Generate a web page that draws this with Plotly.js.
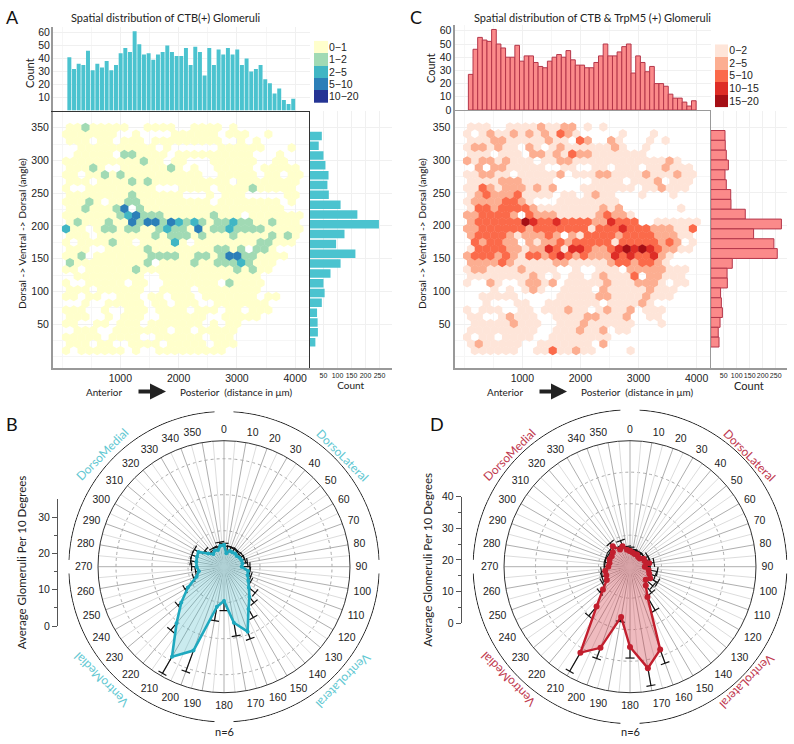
<!DOCTYPE html>
<html><head><meta charset="utf-8">
<script src="https://cdn.plot.ly/plotly-3.0.1.min.js"></script>
<style>html,body{margin:0;padding:0;background:#fff}#p{width:794px;height:744px}</style>
</head><body><div id="p"></div>
<script>
const levelsA = ["0−1","1−2","2−5","5−10","10−20"];
const levelsC = ["0−2","2−5","5−10","10−15","15−20"];
const coloursA = ["#FFFFCC","#A1DAB4","#41B6C4","#2C7FB8","#253494"];
const coloursC = ["#FEE5D9","#FCAE91","#FB6A4A","#DE2D26","#A50F15"];
// hexbin levels, one string per row (top row first), one digit per column: 0 = empty bin
const hexRowsA = [
"1121111100111100111101",
"111111100100001111110111001",
"1110110111011111111100101",
"001111111111010000001111110001",
"0111110221111011111111110001",
"11111111112110110001111110011",
"111210011111121010011111011111",
"1101121211111111110011111011011",
"111011112121111111111011111111",
"100111111111000111101111211111",
"111111112111111000101110000011",
"111210112211111111101111111101",
"1121112402111111111111111111",
"1111111234222111111211101111111",
"121112114244243232122322112111",
"3110122122112322141223222211111",
"111011111112122212111211112121",
"101111211011113101111111122111",
"111001111121111111122120221",
"11201111111222211221244221111",
"211111111120111121122232111",
"110111111211111111111121211",
"0111111111001111111111111",
"10011111011001111111021111",
"1110111111001111011111111",
"1101100111011011101111111011",
"00100111110110111001111111",
"111001001110111101110110111",
"1110010111001111110011111",
"11001101110111111101011",
"0111001111111011011111",
"1111101111001111110111",
"1110110011110111110111",
"101111110100111111111"
];
const hexRowsC = [
"111001111211220101",
"1012112121213210000010001",
"11122111112110320021000101",
"122121102101211111121001",
"11101110221213221111111",
"2122121110112211111111111121",
"02022111110011001101110112111",
"112211011111201112211112111211",
"11112221111000001111011120111",
"11321222121200011111110112111",
"123222311110110121100010001",
"12222332100011111111",
"1332333321111111121200000001",
"22333320322211111232210000",
"233333354334333322433300111111",
"223333332333333313334333222113",
"23333212223202133332333322211",
"032332202122323333313333323201",
"13333221224314432234545432211",
"233323213323432322243433421",
"22223211111221111123323321",
"12211112111100100111022222111",
"1111111121010110121113022111",
"10021001221201111121112221011",
"000101012100111102111112111",
"001111100000111112211112111",
"001000110011111110111121",
"10111001101112110121120111",
"1100121110011112211120011",
"01111121110011121111110001",
"111111111001112112011",
"1011011110011111111",
"121111100111111102",
"0111111001131121100001"
];
const countTopA = [41,32,36,35,46,31,36,33,38,31,35,44,48,45,61,51,43,44,39,43,45,50,45,42,42,48,35,49,45,27,48,35,47,43,48,43,47,35,40,30,32,35,24,21,13,17,8,5,9];
const countTopC = [27,46,55,53,52,61,50,47,40,40,49,37,41,41,36,33,32,37,40,42,40,45,38,34,34,32,32,36,41,50,41,41,44,48,50,28,41,36,29,33,20,20,18,12,9,9,6,3,7];
const countRightA = [44,33,50,57,68,64,69,111,171,248,125,95,164,111,75,50,54,44,27,29,30,21];
const countRightC = [55,56,60,68,55,60,77,78,133,272,165,243,256,83,63,64,38,41,45,36,29,32];
const polarAngles = [0,10,20,30,40,50,60,70,80,90,100,110,120,130,140,150,160,170,180,190,200,210,220,230,240,250,260,270,280,290,300,310,320,330,340,350];
const meanA = [6,3.8,4.7,4.6,4.8,4.6,5,5.2,5.2,4.9,6.8,7,7.8,9,11,13.6,19.2,15.8,9.5,11.3,24.8,28.9,20.5,15.5,11.6,8.1,7.1,7.6,7.8,8,8.2,5.7,4.6,5.2,4.9,5.9];
const upperA = [6.5,5.7,5.8,5.6,5.8,5.4,6,6.1,6.6,7.2,7.3,7.9,8.5,11.3,13,16.3,21.3,19.5,12.2,15.2,31,34.2,23,16.7,12.5,9,8,9,9.4,9.5,9.5,6.9,5.5,6,5.8,6.9];
const meanD = [5,4.6,4.3,4.5,4,4.1,5,5,6.2,4.7,6,6.5,7.4,6.5,7.8,11.1,28,32.7,25.5,16.2,27.4,31.5,16.5,11.2,8.5,8,8,6.9,6.6,6.9,6.7,7.1,8.5,6.3,6.9,5.5];
const upperD = [6.2,5.6,5.3,5.5,5.4,5.5,6.5,6.5,7.7,6.4,8.8,8.5,10.1,9.5,10.7,16,32.6,38.3,29,17.7,31,38.3,20.4,12.5,10.2,9.5,9.2,8.2,8,8.2,7.8,8.3,9.8,7.3,8.8,6.5];
const regionLabels = ["DorsoMedial","DorsoLateral","VentroMedial","VentroLateral"];

const W=794,H=744;
const fx=p=>p/W, fy=p=>1-p/H;
const SANS='"Liberation Sans",Arial,sans-serif', HUM='Lato,"Open Sans",sans-serif';
const traces=[], annotations=[], layout={width:W,height:H,margin:{l:0,r:0,t:0,b:0},paper_bgcolor:'#fff',plot_bgcolor:'rgba(0,0,0,0)',showlegend:false,font:{family:SANS,size:10,color:'#222'}};
const G='#f0f0f0', G2='#f6f6f6';

function hexTraces(rows,colours,names,x0,dx,xa,ya){
  for(let lv=1;lv<=5;lv++){
    const xs=[],ys=[];
    rows.forEach((s,n)=>{[...s].forEach((c,k)=>{
      if(+c===lv){xs.push(x0+dx*k+(n%2===0?dx/2:0));ys.push(350.4-10.33*n);}
    });});
    traces.push({type:'scatter',mode:'markers',x:xs,y:ys,xaxis:xa,yaxis:ya,name:names[lv-1],hoverinfo:'x+y+name',
      marker:{symbol:'hexagon',size:9.4,color:colours[lv-1],line:{width:0}}});
  }
}
function note(x,y,text,size,color,angle){
  annotations.push({xref:'paper',yref:'paper',x:fx(x),y:fy(y),text:text,textangle:angle||0,showarrow:false,font:{family:HUM,size:size,color:color||'#222'},xanchor:'center',yanchor:'middle'});
}
function cartPanel(o){
  const xr=[(o.L-o.xZero)/o.xS,(o.R-o.xZero)/o.xS];
  const yr=[-17,375.5];
  const id=(n)=>n+o.base;
  const mainX=o.base===0?'x':'x'+id(1), mainY=o.base===0?'y':'y'+id(1);
  const mx=o.base===0?'xaxis':'xaxis'+id(1), my=o.base===0?'yaxis':'yaxis'+id(1);
  const t=id(2), r=id(3), k=id(4);
  const xtv=[1000,2000,3000,4000], xminor=[0,500,1000,1500,2000,2500,3000,3500,4000];
  const ytv=[50,100,150,200,250,300,350], yminor=[0,25,50,75,100,125,150,175,200,225,250,275,300,325,350,375];
  const gx={tickmode:'array',tickvals:xtv,ticks:'',showgrid:true,gridcolor:G,gridwidth:1,minor:{tickvals:xminor,showgrid:true,gridcolor:G2,ticks:''},zeroline:false};
  layout[mx]=Object.assign({},gx,{domain:[fx(o.L),fx(o.R)],range:xr,anchor:mainY,showline:true,linecolor:'#999',linewidth:2,ticks:'',ticklabelstandoff:-1,tickfont:{size:10.5,color:'#222'}});
  layout[my]={domain:[fy(o.B),fy(o.T)],range:yr,anchor:mainX,tickmode:'array',tickvals:ytv,showgrid:true,gridcolor:G,minor:{tickvals:yminor,showgrid:true,gridcolor:G2,ticks:''},zeroline:false,showline:true,linecolor:'#999',linewidth:2,ticks:'',ticklabelstandoff:0,tickfont:{size:10.5,color:'#222'}};
  hexTraces(o.hex,o.colours,o.names,o.hexX0,o.hexDX,mainX,mainY);
  // top histogram
  layout['xaxis'+t]=Object.assign({},gx,{domain:[fx(o.L),fx(o.R)],range:xr,anchor:'y'+t,showticklabels:false,showline:true,linecolor:o.frame,linewidth:1});
  layout['yaxis'+t]={domain:[fy(o.T-0.5),fy(o.histTop)],range:[0,(o.T-0.5-o.histTop)/o.topS],anchor:'x'+t,tickmode:'array',tickvals:o.topTicks,showgrid:true,gridcolor:G,zeroline:false,showline:true,linecolor:'#999',linewidth:2,ticks:'',ticklabelstandoff:-1,tickfont:{size:10.5,color:'#222'}};
  traces.push({type:'bar',x:o.top.map((_,i)=>o.binStart+80*i+40),y:o.top,width:o.topWidth,xaxis:'x'+t,yaxis:'y'+t,name:'Count',
    marker:{color:o.barFill,line:{color:o.barLine,width:o.barLW}}});
  note(o.countX,o.countY,'Count',11,'#222',-90);
  // right histogram
  layout['xaxis'+r]={domain:[fx(o.R),fx(o.RR)],range:[0,(o.RR-o.R)/o.rightS],anchor:'y'+r,tickmode:'array',tickvals:[50,100,150,200,250],tickangle:0,showgrid:true,gridcolor:G,zeroline:false,showline:true,linecolor:'#999',linewidth:2,ticks:'',ticklabelstandoff:0,tickfont:{size:7,color:'#222'},
    title:{text:'Count',font:{family:HUM,size:o.countSize,color:'#222'},standoff:o.countStandoff}};
  layout['yaxis'+r]={domain:[fy(o.B),fy(o.T)],range:yr,anchor:'x'+r,showticklabels:false,tickmode:'array',tickvals:ytv,showgrid:true,gridcolor:G,zeroline:false,showline:true,linecolor:o.frame,linewidth:1,ticks:''};
  traces.push({type:'bar',orientation:'h',y:o.right.map((_,i)=>345-15*i-7.5),x:o.right,width:o.rightWidth,xaxis:'x'+r,yaxis:'y'+r,name:'Count',
    marker:{color:o.barFill,line:{color:o.barLine,width:o.barLW}}});
  // colour key
  const n=o.names.length;
  const cs=[];o.colours.forEach((c,i)=>{cs.push([i/n,c]);cs.push([(i+1)/n,c]);});
  traces.push({type:'heatmap',x:['key'],y:o.names,z:o.names.map((_,i)=>[i]),zmin:-0.5,zmax:n-0.5,colorscale:cs,showscale:false,xaxis:'x'+k,yaxis:'y'+k,hoverinfo:'y'});
  layout['xaxis'+k]={domain:[fx(o.kL),fx(o.kR)],anchor:'y'+k,visible:false,type:'category',fixedrange:true};
  layout['yaxis'+k]={domain:[fy(o.kB),fy(o.kT)],anchor:'x'+k,type:'category',side:'right',autorange:'reversed',tickmode:'array',tickvals:o.names,ticktext:o.names,showgrid:false,zeroline:false,showline:false,ticks:'',ticklabelstandoff:0,tickfont:{size:10.5,color:'#222'}};
  // title & caption
  note(o.titleX,o.titleY,o.title,11);
  note(o.yTitleX,234,'Dorsal -> Ventral -> Dorsal (angle)',10.2,'#222',-90);
  note(o.antX,391.5,'Anterior',9.9);
  note(o.antX+131.5,391.5,'Posterior  (distance in μm)',9.9);
  annotations.push({xref:'paper',yref:'paper',axref:'pixel',ayref:'pixel',x:fx(o.antX+62),y:fy(391.5),ax:-29,ay:0,text:'',showarrow:true,arrowhead:2,arrowsize:0.8,arrowwidth:4,arrowcolor:'#222'});
}
function polarPanel(o){
  const t=o.ax;
  traces.push({type:'scatter',mode:'markers',x:[0],y:o.ticks,xaxis:'x'+t,yaxis:'y'+t,marker:{opacity:0},hoverinfo:'skip'});
  layout['xaxis'+t]={domain:[fx(o.axisX),fx(o.axisX+2)],anchor:'free',position:0,visible:false};
  layout['yaxis'+t]={domain:[fy(o.axisB),fy(o.axisT)],range:[0,o.rmax],anchor:'free',position:fx(o.axisX),side:'left',tickmode:'array',tickvals:o.ticks,showgrid:false,zeroline:false,showline:true,linecolor:'#555',linewidth:1,ticks:'outside',ticklen:5,tickcolor:'#555',tickfont:{size:10.5,color:'#222'},
    minor:{tickvals:o.minor,ticks:'outside',ticklen:3,tickcolor:'#555'},
    title:{text:'Average Glomeruli Per 10 Degrees',font:{family:HUM,size:o.titleSize,color:'#222'},standoff:o.standoff}};
  const sp=o.id;
  layout[sp]={domain:{x:[fx(o.cx-o.R),fx(o.cx+o.R)],y:[fy(o.cy+o.R),fy(o.cy-o.R)]},bgcolor:'rgba(0,0,0,0)',
    radialaxis:{range:[0,o.rmax],tickmode:'array',tickvals:o.ticks.filter(v=>v>0&&v<o.rmax),showticklabels:false,ticks:'',showline:false,showgrid:true,gridcolor:'#aaa',griddash:'dot',gridwidth:1},
    angularaxis:{direction:'clockwise',rotation:90,tickmode:'array',tickvals:polarAngles,ticktext:polarAngles.map(String),ticks:'outside',ticklen:3,tickcolor:'rgba(0,0,0,0)',tickfont:{size:10.5,color:'#222'},showline:true,linecolor:'#333',linewidth:1,showgrid:true,gridcolor:'#999',gridwidth:0.8}};
  const lightT=[],lightR=[];
  polarAngles.forEach(a=>{lightT.push(a+5,a+5,null);lightR.push(0,o.rmax,null);});
  traces.push({type:'scatterpolar',subplot:sp,mode:'lines',theta:lightT,r:lightR,line:{color:'#dcdcdc',width:1},hoverinfo:'skip'});
  // outer ring, on its own wider polar subplot
  const ringSp=o.ringId;
  layout[ringSp]={domain:{x:[fx(o.cx-o.ringPx),fx(o.cx+o.ringPx)],y:[fy(o.cy+o.ringPx),fy(o.cy-o.ringPx)]},bgcolor:'rgba(0,0,0,0)',
    radialaxis:{visible:false,range:[0,1.005]},angularaxis:{visible:false,direction:'clockwise',rotation:90}};
  [[o.gt,90-o.gr],[90+o.gr,180-o.gt],[180+o.gt,270-o.gr],[270+o.gr,360-o.gt]].forEach(q=>{
    const th=[];for(let a=q[0];a<q[1];a+=2)th.push(a);th.push(q[1]);
    traces.push({type:'scatterpolar',subplot:ringSp,mode:'lines',theta:th,r:th.map(()=>1),line:{color:'#222',width:1},hoverinfo:'skip'});
  });
  const eT=[],eR=[];
  polarAngles.forEach((a,i)=>{eT.push(a,a,null);eR.push(o.mean[i],o.upper[i],null);});
  traces.push({type:'scatterpolar',subplot:sp,mode:'lines',theta:eT,r:eR,line:{color:'#111',width:1.2},hoverinfo:'skip'});
  traces.push({type:'scatterpolar',subplot:sp,mode:'markers',theta:polarAngles,r:o.upper,hoverinfo:'skip',marker:{symbol:'line-ew',size:6.5,angle:polarAngles,line:{color:'#111',width:1.2}}});
  traces.push({type:'scatterpolar',subplot:sp,mode:'lines+markers',theta:polarAngles.concat([polarAngles[0]]),r:o.mean.concat([o.mean[0]]),fill:'toself',fillcolor:o.fill,line:{color:o.line,width:o.lw},marker:{color:o.line,size:o.ms},name:'Mean'});
  const angs=[-45,45,-135,135];
  regionLabels.forEach((t2,i)=>note(o.labels[i][0],o.labels[i][1],t2,12,o.labelC,angs[i]));
  note(o.cx,731,'n=6',11);
}
cartPanel({base:0,L:53,R:309.5,RR:392,T:111,B:368,xZero:62,xS:0.0583,hex:hexRowsA,colours:coloursA,names:levelsA,hexX0:68.6,hexDX:133.5,
  top:countTopA,right:countRightA,binStart:86,topWidth:68,rightWidth:13,topS:1.3,histTop:27,topTicks:[10,20,30,40,50,60],rightS:0.28,countSize:10,countStandoff:1,countX:29,countY:73,
  barFill:'#4BC3CF',barLine:'#4BC3CF',barLW:0,frame:'#333',kL:314,kR:328,kT:40.7,kB:103,title:'Spatial distribution of CTB(+) Glomeruli',titleX:165,titleY:18,yTitleX:22,antX:104});
cartPanel({base:5,L:454.5,R:710.7,RR:787,T:110.5,B:368,xZero:464.2,xS:0.0581,hex:hexRowsC,colours:coloursC,names:levelsC,hexX0:50,hexDX:134,
  top:countTopC,right:countRightC,binStart:72,topWidth:80,rightWidth:15,topS:1.32,histTop:25,topTicks:[0,10,20,30,40,50,60],rightS:0.26,countSize:11,countStandoff:0,countX:430,countY:68,
  barFill:'#FB8A8A',barLine:'#B4364A',barLW:1,frame:'#999',kL:715,kR:728.3,kT:44.3,kB:107.3,title:'Spatial distribution of CTB &amp; TrpM5 (+) Glomeruli',titleX:592,titleY:18,yTitleX:422,antX:505});
polarPanel({ax:20,id:'polar',ringId:'polar3',ringPx:156,cx:224,cy:566.7,R:126,rmax:35,ticks:[0,10,20,30],minor:[5,15,25],gt:3.5,gr:2.5,mean:meanA,upper:upperA,fill:'rgba(65,182,196,0.28)',line:'#1FA9BF',lw:2.6,ms:4,labelC:'#62C8D2',
  axisX:57,axisB:626,axisT:499,titleSize:11.5,standoff:8,labels:[[101.7,454],[343,455],[100.7,680],[344,681]]});
polarPanel({ax:21,id:'polar2',ringId:'polar4',ringPx:157.7,cx:630,cy:566.7,R:126,rmax:40,ticks:[0,10,20,30,40],minor:[5,15,25,35],gt:3.5,gr:2.5,mean:meanD,upper:upperD,fill:'rgba(205,50,60,0.33)',line:'#C21F2E',lw:2.4,ms:6,labelC:'#C0394F',
  axisX:460.7,axisB:623,axisT:496.7,titleSize:11.5,standoff:5,labels:[[509.3,454],[750,455],[508,680],[746.7,681.7]]});
[['A',12,17],['B',12,424],['C',416,17],['D',437,424]].forEach(a=>note(a[1],a[2],a[0],18,'#111'));
layout.annotations=annotations;
Plotly.newPlot('p',traces,layout,{staticPlot:true,displayModeBar:false});
</script></body></html>
